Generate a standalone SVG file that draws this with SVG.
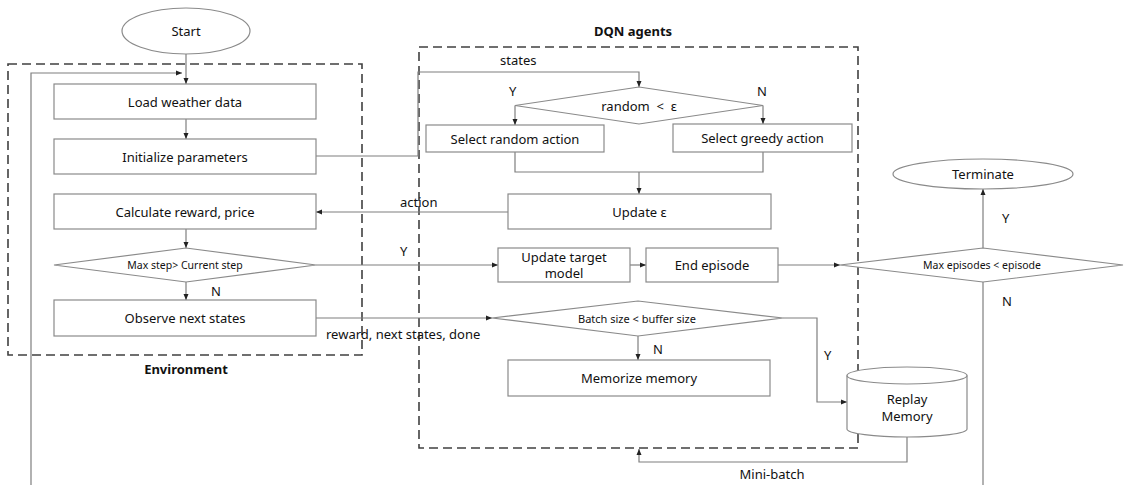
<svg xmlns="http://www.w3.org/2000/svg" width="1124" height="485" viewBox="0 0 1124 485">
  <defs>
    <marker id="arrow" viewBox="0 0 6 6" refX="6" refY="3" markerWidth="6" markerHeight="6" markerUnits="userSpaceOnUse" orient="auto">
      <path d="M0,0.5 L6,3 L0,5.5 Z" fill="#222"/>
    </marker>
  </defs>
  <style>
    .box { fill: #fff; stroke: #8a8a8a; stroke-width: 1.2; }
    .conn { fill: none; stroke: #7f7f7f; stroke-width: 1.2; }
    .arr { marker-end: url(#arrow); }
    .group { fill: none; stroke: #404040; stroke-width: 1.6; stroke-dasharray: 9 5; }
    text { font-family: "Noto Sans", "Liberation Sans", "Noto Sans CJK KR", sans-serif; fill: #111; }
    .t { font-size: 13px; text-anchor: middle; dominant-baseline: central; }
    .ts { font-size: 10.5px; text-anchor: middle; dominant-baseline: central; }
    .tb { font-size: 13px; font-weight: bold; text-anchor: middle; dominant-baseline: central; }
    .lbl { font-size: 13px; dominant-baseline: central; }
  </style>

  <rect width="1124" height="485" fill="#fff"/>

  <!-- dashed grouping frames -->
  <g id="environment-frame">
    <rect class="group" x="8" y="64" width="354" height="291"/>
    <text class="tb" x="186" y="369">Environment</text>
  </g>
  <g id="dqn-frame">
    <rect class="group" x="419" y="47" width="439" height="401"/>
    <text class="tb" x="633" y="31">DQN agents</text>
  </g>

  <!-- connectors -->
  <g id="connectors">
    <line class="conn arr" x1="186" y1="54" x2="186" y2="84"/>
    <polyline class="conn arr" points="31,485 31,73 182,73"/>
    <line class="conn arr" x1="186" y1="119" x2="186" y2="139"/>
    <polyline class="conn arr" points="316,156 418,156 418,72 639,72 639,87"/>
    <text class="lbl" x="500" y="60">states</text>
    <polyline class="conn arr" points="515,105.5 515,125"/>
    <polyline class="conn arr" points="763,105.5 763,124"/>
    <polyline class="conn" points="515,152 515,172 763,172 763,152"/>
    <line class="conn arr" x1="639" y1="172" x2="639" y2="194"/>
    <line class="conn arr" x1="508" y1="212" x2="316" y2="212"/>
    <text class="lbl" x="400" y="202">action</text>
    <line class="conn arr" x1="186" y1="229" x2="186" y2="248"/>
    <line class="conn arr" x1="316" y1="265" x2="498" y2="265"/>
    <text class="lbl" x="400" y="251">Y</text>
    <line class="conn arr" x1="186" y1="282" x2="186" y2="300"/>
    <text class="lbl" x="211" y="291">N</text>
    <line class="conn arr" x1="630" y1="265" x2="646" y2="265"/>
    <line class="conn arr" x1="778" y1="265" x2="840" y2="265"/>
    <line class="conn arr" x1="983" y1="248" x2="983" y2="189"/>
    <text class="lbl" x="1002" y="218">Y</text>
    <line class="conn" x1="983" y1="282" x2="983" y2="485"/>
    <text class="lbl" x="1002" y="301">N</text>
    <line class="conn arr" x1="316" y1="318" x2="492" y2="318"/>
    <text class="lbl" x="326" y="334">reward, next states, done</text>
    <polyline class="conn arr" points="783,318 817,318 817,402 847,402"/>
    <text class="lbl" x="824" y="355">Y</text>
    <line class="conn arr" x1="638" y1="336" x2="638" y2="360"/>
    <text class="lbl" x="653" y="349">N</text>
    <polyline class="conn arr" points="907,437 907,462 639,462 639,449"/>
    <text class="t" x="772" y="474">Mini-batch</text>
  </g>

  <!-- environment nodes -->
  <g id="start">
    <ellipse class="box" cx="186" cy="31" rx="64" ry="23"/>
    <text class="t" x="186" y="31">Start</text>
  </g>
  <g id="load-weather">
    <rect class="box" x="54" y="84" width="262" height="35"/>
    <text class="t" x="185" y="101.5">Load weather data</text>
  </g>
  <g id="init-params">
    <rect class="box" x="54" y="139" width="262" height="35"/>
    <text class="t" x="185" y="156.5">Initialize parameters</text>
  </g>
  <g id="calc-reward">
    <rect class="box" x="54" y="194" width="262" height="35"/>
    <text class="t" x="185" y="211.5">Calculate reward, price</text>
  </g>
  <g id="max-step">
    <polygon class="box" points="54,265 186,248 316,265 186,282"/>
    <text class="ts" x="185" y="265">Max step&gt; Current step</text>
  </g>
  <g id="observe">
    <rect class="box" x="54" y="300" width="262" height="36"/>
    <text class="t" x="185" y="318">Observe next states</text>
  </g>

  <!-- agent nodes -->
  <g id="random-eps">
    <polygon class="box" points="515,105.5 639,87 763,105.5 639,124"/>
    <text class="t" x="639" y="106" xml:space="preserve">random  &lt;  ε</text>
    <text class="lbl" x="509" y="91">Y</text>
    <text class="lbl" x="757" y="91">N</text>
  </g>
  <g id="select-random">
    <rect class="box" x="426" y="125" width="178" height="27"/>
    <text class="t" x="515" y="138.5">Select random action</text>
  </g>
  <g id="select-greedy">
    <rect class="box" x="673" y="124" width="179" height="28"/>
    <text class="t" x="762.5" y="138">Select greedy action</text>
  </g>
  <g id="update-eps">
    <rect class="box" x="508" y="194" width="263" height="35"/>
    <text class="t" x="639.5" y="211.5">Update ε</text>
  </g>
  <g id="update-target">
    <rect class="box" x="498" y="248" width="132" height="34"/>
    <text class="t" x="564" y="257">Update target</text>
    <text class="t" x="564" y="273">model</text>
  </g>
  <g id="end-episode">
    <rect class="box" x="646" y="248" width="132" height="34"/>
    <text class="t" x="712" y="265">End episode</text>
  </g>
  <g id="batch-size">
    <polygon class="box" points="492,318 638,301 783,318 638,336"/>
    <text class="ts" x="637" y="318" style="font-size:11px">Batch size &lt; buffer size</text>
  </g>
  <g id="memorize">
    <rect class="box" x="508" y="360" width="262" height="36"/>
    <text class="t" x="639" y="378">Memorize memory</text>
  </g>
  <g id="replay-memory">
    <path class="box" d="M847,375.5 A60,8.5 0 0 1 967,375.5 L967,429 A60,8 0 0 1 847,429 Z"/>
    <path class="box" style="fill:none" d="M847,375.5 A60,8.5 0 0 0 967,375.5"/>
    <text class="t" x="907" y="399">Replay</text>
    <text class="t" x="907" y="416">Memory</text>
  </g>

  <!-- termination -->
  <g id="max-episodes">
    <polygon class="box" points="840,265 983,248 1123,265 983,282"/>
    <text class="ts" x="982" y="265">Max episodes  &lt;  episode</text>
  </g>
  <g id="terminate">
    <ellipse class="box" cx="983" cy="174" rx="90" ry="15"/>
    <text class="t" x="983" y="174">Terminate</text>
  </g>
</svg>
